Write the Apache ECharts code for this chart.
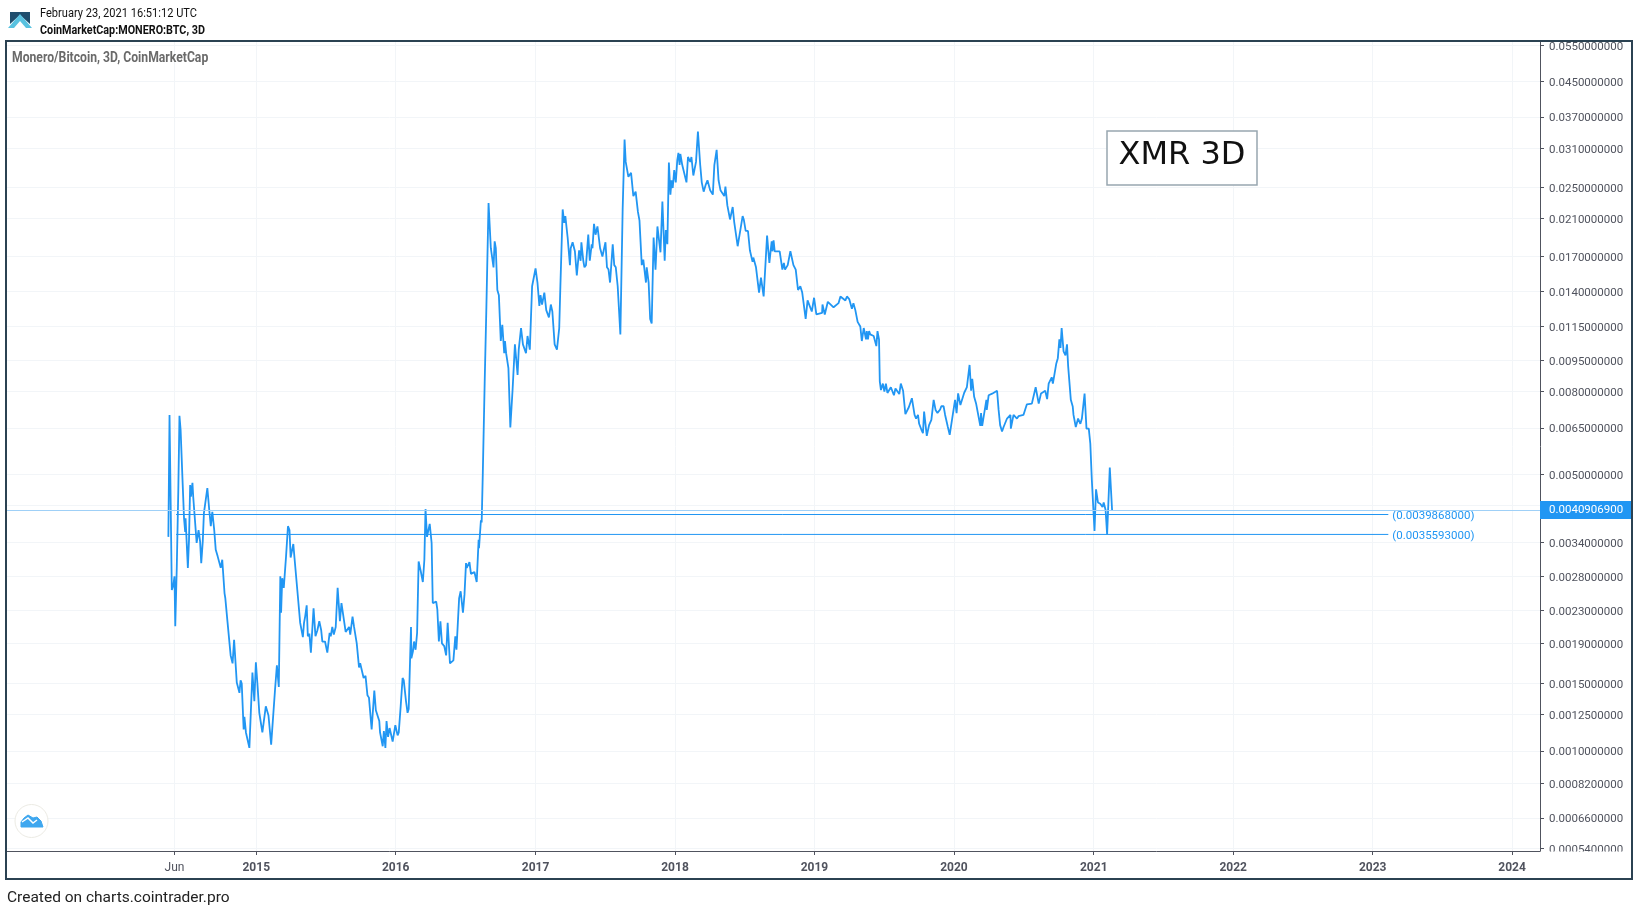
<!DOCTYPE html>
<html>
<head>
<meta charset="utf-8">
<title>XMR 3D</title>
<style>
    html, body { margin: 0; padding: 0; background: #fff; }
    #chart { width: 1638px; height: 911px; }
</style>
<script src="https://cdn.jsdelivr.net/npm/echarts@6/dist/echarts.min.js"></script>
</head>
<body>
<div id="chart"></div>
<script>
var firstBarDate = '2014-05-16';

// days since firstBarDate, and close price in BTC
var days2014 = [
    0,3,9,13,16,18,22,26,29,32,
    37,41,44,45,51,54,57,59,63,65,
    70,74,79,83,86,90,93,102,107,111,
    115,120,124,129,137,141,147,149,155,158,
    163,167,168,172,179,186,189,192,197,199,
    203,212
];
var prices2014 = [
    .00351,.0070,.00259,.00266,.0028,.0021,.00296,.00458,.00697,.00644,
    .00485,.0039,.00361,.0039,.00294,.00345,.00471,.00441,.00477,.00441,
    .00445,.00339,.00365,.00342,.00302,.00342,.00402,.00463,.00409,.00373,
    .00405,.00365,.00326,.00314,.00294,.00308,.00254,.00247,.00214,.00212,
    .00177,.00176,.00169,.00194,.00151,.00142,.00153,.0015,.00114,.00123,
    .00112,.00102
];

var days2015 = [
    220,225,229,233,238,246,255,262,269,272,
    279,284,289,293,295,298,302,308,311,313,
    317,320,327,330,333,339,340,345,352,355,
    358,362,365,369,373,380,385,390,395,400,
    403,410,416,422,425,429,433,438,443,449,
    453,457,464,469,473,476,482,486,493,499,
    502,511,516,521,525,532,539,543,546,552,
    554,561,564,568,571,575,579,587,594,600
];
var prices2015 = [
    .0016,.00135,.0017,.0015,.00126,.00112,.00131,.00124,.00104,.00104,
    .00144,.00167,.00147,.0028,.00227,.00277,.00262,.00314,.00317,.00373,
    .00365,.00312,.00337,.00312,.00314,.00249,.00249,.00214,.00197,.00214,
    .00222,.00237,.00198,.00201,.0018,.00233,.00198,.00205,.00216,.00205,
    .00192,.00192,.0018,.00202,.00198,.00209,.002,.00209,.00262,.00216,
    .0024,.0024,.00203,.00202,.00209,.002,.00222,.00209,.0019,.00165,
    .00169,.00155,.00157,.0014,.00138,.00114,.00144,.00128,.00127,.0012,
    .00112,.00103,.00113,.00102,.0012,.00109,.00115,.00106,.00117,.0011
];

var days2016 = [
    603,608,613,616,622,626,629,635,636,640,
    643,647,651,655,661,666,670,673,677,684,
    689,692,701,704,708,712,716,722,727,731,
    737,746,751,754,761,765,771,775,779,781,
    788,792,801,805,807,812,813,818,820,823,
    828,832,838,844,851,854,857,861,865,870,
    874,879,881,884,890,895,901,907,914,917,
    923,928,933,936,940,944,946,952,955,961,
    966,971,974,978,984,989,996,1001,1005,1011,
    1017,1023,1026,1032
];
var prices2016 = [
    .00112,.00131,.00155,.00153,.00135,.00126,.00129,.00209,.00174,.00181,
    .00192,.00183,.00202,.00305,.00287,.00271,.00308,.00411,.00351,.00378,
    .00339,.0024,.00242,.00231,.00192,.00216,.0019,.00187,.00177,.00214,
    .00169,.00172,.00198,.00183,.00247,.00257,.00227,.00252,.00302,.00294,
    .00304,.00284,.00287,.0029,.00271,.00345,.00329,.00386,.00381,.00505,
    .00852,.0124,.0229,.0178,.0160,.0185,.0178,.0141,.0137,.0106,
    .0116,.0099,.0106,.0099,.0091,.00652,.0081,.0104,.00876,.0101,
    .0114,.0104,.0104,.0099,.0109,.0109,.0101,.0144,.0143,.0159,
    .0147,.0129,.0137,.0130,.0139,.0126,.0121,.0130,.0125,.0104,
    .0101,.0114,.0144,.0221
];

var days2017 = [
    1036,1039,1045,1047,1051,1053,1058,1064,1069,1075,
    1079,1081,1086,1089,1093,1099,1103,1108,1110,1114,
    1118,1123,1130,1136,1144,1148,1152,1156,1163,1167,
    1171,1176,1183,1189,1194,1197,1204,1211,1217,1223,
    1229,1233,1239,1243,1250,1252,1257,1261,1265,1270,
    1275,1280,1288,1293,1299,1302,1306,1310,1314,1317,
    1320,1324,1328,1332,1335,1338,1340,1345,1349,1356,
    1360,1366,1369,1374,1381,1386,1392,1396,1401,1406
];
var prices2017 = [
    .0205,.0213,.0189,.0189,.0162,.0178,.0184,.0175,.0153,.0176,
    .0166,.0184,.0166,.0160,.0162,.0192,.0166,.0182,.0178,.0204,
    .0192,.0201,.0178,.0170,.0184,.0160,.0158,.0147,.0182,.0162,
    .0160,.0144,.0110,.0221,.0326,.0288,.0265,.0271,.0238,.0244,
    .0218,.0208,.0162,.0167,.0147,.0160,.0147,.0120,.0117,.0189,
    .0158,.0201,.0174,.0231,.0166,.0197,.0182,.0287,.0240,.0260,
    .0249,.0275,.0257,.0291,.0303,.0283,.0301,.0283,.0286,.0257,
    .0296,.0288,.0296,.0267,.0288,.0341,.0283,.0257,.0244,.0253
];

var days2018 = [
    1411,1418,1425,1429,1435,1440,1445,1455,1458,1463,
    1466,1470,1477,1481,1490,1497,1503,1506,1511,1517,
    1522,1529,1531,1538,1546,1551,1558,1567,1573,1579,
    1581,1584,1587,1600,1607,1611,1614,1621,1628,1636,
    1642,1648,1654,1659,1668,1673,1684,1690,1696,1711,
    1712,1718,1726,1741,1745,1754,1759,1772,1776,1782,
    1789,1793,1798,1804,1811,1815,1820,1826,1828,1831,
    1834,1837,1846,1853,1856,1860
];
var prices2018 = [
    .0260,.0246,.0240,.0283,.0308,.0260,.0246,.0238,.0251,.0226,
    .0224,.0209,.0224,.0206,.0180,.0197,.0213,.0209,.0196,.0196,
    .0176,.0165,.0169,.0160,.0139,.0151,.0136,.0191,.0164,.0185,
    .0175,.0186,.0175,.0175,.0158,.0164,.0158,.0162,.0175,.0162,
    .0158,.0141,.0144,.0139,.0120,.0133,.0125,.0135,.0123,.0124,
    .0130,.0123,.0132,.0128,.0128,.0131,.0136,.0133,.0136,.0134,
    .0127,.0131,.0126,.0118,.0115,.0106,.0114,.0107,.0112,.0107,
    .0112,.0110,.0109,.0103,.0112,.0107
];

var days2019 = [
    1862,1865,1870,1874,1878,1882,1887,1891,1896,1899,
    1903,1913,1917,1923,1929,1934,1938,1943,1946,1953,
    1957,1962,1965,1971,1975,1978,1981,1985,1991,1997,
    2003,2008,2013,2020,2023,2029,2033,2040,2045,2049,
    2059,2063,2067,2073,2077,2083,2090,2097,2101,2104,
    2109,2114,2118,2125,2127,2130,2141,2142,2147,2156,
    2169,2173,2177,2182,2186,2195,2204,2205,2212,2221,
    2225,2238,2247,2260,2265,2270,2278,2284,2295,2300,
    2304,2312,2315,2324,2328,2332,2335,2338,2343,2348,
    2352,2355,2358,2362,2367,2369,2375,2381,2387,2391,
    2398,2403,2409,2413,2417,2424,2428,2433,2439,2445,
    2448,2453,2457,2464,2470
];
var prices2019 = [
    .00845,.00805,.00835,.00798,.00835,.00792,.00792,.00818,.00812,.00782,
    .00812,.00787,.00835,.00802,.00703,.00707,.00731,.00727,.00769,.0070,
    .00686,.0070,.00666,.00644,.00632,.00713,.00713,.00622,.00661,.00681,
    .00762,.0072,.00708,.00722,.00735,.00735,.0070,.00655,.00626,.00619,
    .00762,.00707,.0079,.0074,.00734,.00793,.00819,.00927,.00802,.00858,
    .00775,.00747,.00747,.00658,.00707,.00658,.00762,.0072,.00782,.00789,
    .00802,.0072,.00661,.00638,.00654,.00686,.0070,.00648,.0070,.00686,
    .00695,.0070,.00743,.00746,.0074,.00818,.00746,.0079,.00802,.00765,
    .00835,.00865,.00835,.00935,.00963,.0107,.0102,.0114,.0100,.00978,
    .0104,.00921,.00918,.00762,.00734,.0070,.00654,.00686,.00666,.00686,
    .00789,.00648,.00648,.00596,.00485,.00363,.0046,.00427,.00424,.00416,
    .00427,.00409,.00356,.0052,.00409069
];

// price scale ticks
var priceLabels = [0.055, 0.045, 0.037, 0.031, 0.025, 0.021, 0.017, 0.014, 0.0115, 0.0095, 0.008,
    0.0065, 0.005, 0.0034, 0.0028, 0.0023, 0.0019, 0.0015, 0.00125, 0.001, 0.00082, 0.00066, 0.00054];
var priceHiddenTick = 0.0042;   // sits behind the last price box
var priceMin = 0.000532;
var priceMax = 0.0561;

var timeTicks = ['2014-06-01', '2015-01-01', '2016-01-01', '2017-01-01', '2018-01-01', '2019-01-01',
    '2020-01-01', '2021-01-01', '2022-01-01', '2023-01-01', '2024-01-01'];
var timeMin = '2013-03-17';
var timeMax = '2024-03-14';

var lastPrice = 0.00409069;
var lastPriceText = '0.0040906900';
var lineStart = 20, lineEnd = 3193;     // days, where the two horizontal lines run
var levels = [0.0039868, 0.0035593];

var BLUE = '#2196f3';
var AXIS_TEXT = '#50535e';
var GRID = '#f2f5f8';
var FRAME = '#2b4252';

var DAY = 86400000;
var baseTime = Date.parse(firstBarDate);

// tradingview style log scale, log10(price + 0.0001)
var toScale = function (price) {
    return Math.log10(price + 0.0001);
};

var toPoint = function (day, price) {
    return [baseTime + day * DAY, toScale(price)];
};

var allDays = days2014.concat(days2015, days2016, days2017, days2018, days2019);
var allPrices = prices2014.concat(prices2015, prices2016, prices2017, prices2018, prices2019);
var seriesData = allDays.map(function (day, i) {
    return toPoint(day, allPrices[i]);
});

var timeValues = timeTicks.map(function (d) { return Date.parse(d); });
var priceValues = priceLabels.map(toScale);
var priceTickValues = priceValues.concat([toScale(priceHiddenTick)]);

var levelSeries = levels.map(function (level) {
    return {
        type: 'line',
        data: [toPoint(lineStart, level), toPoint(lineEnd, level)],
        showSymbol: false,
        silent: true,
        lineStyle: { color: BLUE, width: 1 },
        endLabel: {
            show: true,
            distance: 4,
            offset: [0, 2],
            color: BLUE,
            fontFamily: 'Roboto',
            fontSize: 11.5,
            formatter: '(' + level.toFixed(10) + ')'
        }
    };
});

var lastLine = [{
    coord: [Date.parse(timeMin), toScale(lastPrice)],
    lineStyle: { color: '#9fd0f7', width: 1, type: 'solid' },
    label: {
        show: true,
        position: 'end',
        distance: 0,
        color: '#fff',
        backgroundColor: BLUE,
        padding: [3, 9, 3, 9],
        fontFamily: 'Roboto',
        fontSize: 11.5,
        formatter: lastPriceText
    }
}, {
    coord: [Date.parse(timeMax), toScale(lastPrice)]
}];

var headerText = function (text, x, y, font, fill, scaleX) {
    return {
        type: 'text',
        x: x,
        y: y,
        scaleX: scaleX,
        z: 110,
        style: { text: text, font: font, fill: fill, textVerticalAlign: 'middle' }
    };
};

var option = {
    animation: false,
    backgroundColor: '#fff',
    grid: { left: 6, right: 98, top: 42, bottom: 60 },
    xAxis: {
        // plain value axis on timestamps, the time axis can not take custom ticks
        type: 'value',
        scale: true,
        min: Date.parse(timeMin),
        max: Date.parse(timeMax),
        axisLine: { lineStyle: { color: AXIS_TEXT, width: 1 } },
        axisTick: { show: true, length: 4, lineStyle: { color: AXIS_TEXT }, customValues: timeValues },
        splitLine: { show: true, lineStyle: { color: GRID, width: 1 } },
        axisLabel: {
            customValues: timeValues,
            margin: 11,
            hideOverlap: false,
            color: AXIS_TEXT,
            fontFamily: 'Roboto',
            fontSize: 12,
            formatter: function (value) {
                var date = new Date(value);
                if (date.getUTCMonth() === 5) {
                    return '{month|Jun}';
                }
                return '{year|' + date.getUTCFullYear() + '}';
            },
            rich: {
                month: { color: AXIS_TEXT, fontFamily: 'Roboto', fontSize: 12 },
                year: { color: AXIS_TEXT, fontFamily: 'Roboto', fontSize: 12, fontWeight: 'bold' }
            }
        }
    },
    yAxis: {
        type: 'value',
        position: 'right',
        min: toScale(priceMin),
        max: toScale(priceMax),
        axisLine: { show: true, lineStyle: { color: AXIS_TEXT, width: 1 } },
        axisTick: { show: true, length: 4, lineStyle: { color: AXIS_TEXT }, customValues: priceTickValues },
        splitLine: { show: true, lineStyle: { color: GRID, width: 1 } },
        axisLabel: {
            customValues: priceValues,
            margin: 9,
            hideOverlap: false,
            formatter: function (value) {
                return '{price|' + (Math.pow(10, value) - 0.0001).toFixed(10) + '}';
            },
            rich: {
                // top padding pushes the text down onto its tick
                price: { color: AXIS_TEXT, fontFamily: 'Roboto', fontSize: 11.5, padding: [3, 0, 0, 0] }
            }
        }
    },
    series: [{
        type: 'line',
        data: seriesData,
        showSymbol: false,
        smooth: false,
        lineStyle: { color: BLUE, width: 1.8 },
        itemStyle: { color: BLUE },
        markLine: {
            silent: true,
            symbol: 'none',
            precision: 10,
            data: [lastLine]
        }
    }].concat(levelSeries),
    graphic: {
        elements: [
            // white strips so the first and last price labels get cut like in the original
            { type: 'rect', z: 100, shape: { x: 0, y: 0, width: 1638, height: 41 }, style: { fill: '#fff' } },
            { type: 'rect', z: 100, shape: { x: 1541, y: 851.5, width: 90, height: 27 }, style: { fill: '#fff' } },
            { type: 'rect', z: 101, shape: { x: 6, y: 41, width: 1626, height: 838 },
                style: { fill: 'none', stroke: FRAME, lineWidth: 2 } },

            // header
            { type: 'polygon', z: 110, shape: { points: [[10, 12], [30, 12], [30, 24], [20, 15], [10, 24]] }, style: { fill: '#1f4e6e' } },
            { type: 'polygon', z: 110, shape: { points: [[20, 14], [32, 28], [26, 28], [20, 21], [14, 28], [8, 28]] }, style: { fill: '#59c2e0' } },
            headerText('February 23, 2021 16:51:12 UTC', 40, 14, '12.5px Roboto', '#111', 0.885),
            headerText('CoinMarketCap:MONERO:BTC, 3D', 40, 31, 'bold 12.5px Roboto', '#111', 0.862),
            headerText('Monero/Bitcoin, 3D, CoinMarketCap', 12, 58, 'bold 14px Roboto', '#6a6a6a', 0.87),

            // annotation
            { type: 'rect', z: 105, shape: { x: 1107, y: 131, width: 150, height: 54 },
                style: { fill: '#fff', stroke: '#98a6b0', lineWidth: 1.5 } },
            { type: 'text', z: 106, x: 1182, y: 156, style: {
                text: 'XMR 3D', font: '32px "DejaVu Sans"', fill: '#111', textAlign: 'center', textVerticalAlign: 'middle' } },

            // watermark
            { type: 'circle', z: 105, shape: { cx: 31.5, cy: 821, r: 16.5 },
                style: { fill: '#fff', stroke: '#ecebe4', lineWidth: 1 } },
            { type: 'polygon', z: 106, shape: { points: [[21, 827], [21, 822], [24, 818], [28, 815], [33, 818], [37, 817], [41, 821], [43, 827]] },
                style: { fill: '#3fa7ef', stroke: '#3fa7ef', lineWidth: 1, lineJoin: 'round' } },
            { type: 'polyline', z: 107, shape: { points: [[22, 822], [28, 818], [33, 823], [37, 820]] },
                style: { fill: 'none', stroke: '#fff', lineWidth: 1.5 } },

            // footer
            headerText('Created on charts.cointrader.pro', 7, 898.5, '15.5px Roboto', '#222', 1)
        ]
    }
};

var chart = echarts.init(document.getElementById('chart'));
chart.setOption(option);
</script>
</body>
</html>
